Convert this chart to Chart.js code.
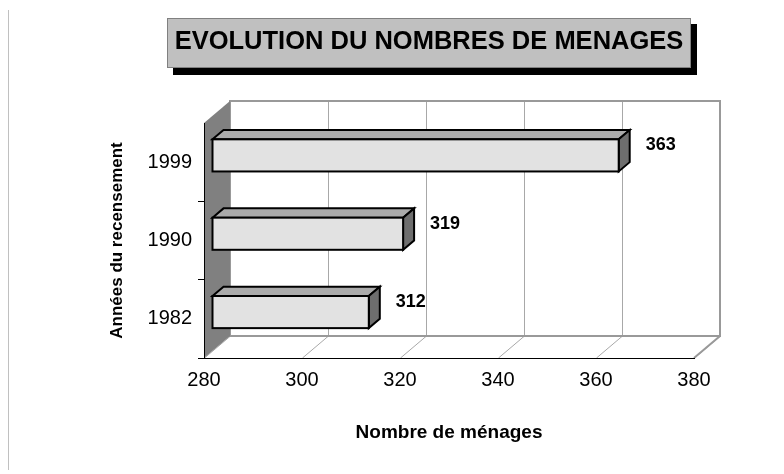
<!DOCTYPE html>
<html>
<head>
<meta charset="utf-8">
<script src="https://cdn.jsdelivr.net/npm/chart.js@4.4.1/dist/chart.umd.min.js"></script>
<style>
  html, body { margin: 0; padding: 0; background: #fff; }
  #wrap { width: 784px; height: 474px; position: relative; }
</style>
</head>
<body>
<div id="wrap"><canvas id="myChart"></canvas></div>
<script>
// Années du recensement et nombre de ménages
const years = ['1982', '1990', '1999'];
const households = [312, 319, 363];
const xTicks = [280, 300, 320, 340, 360, 380];

const chartTitle = 'EVOLUTION DU NOMBRES DE MENAGES';
const xTitle = 'Nombre de ménages';
const yTitle = 'Années du recensement';

// fake 3D depth of the plot box (Excel style)
const DEPTH_X = 26;
const DEPTH_Y = 22;
const BAR_OFFSET = 8;   // bars sit this far back in the box
const BAR_DEPTH = 11;

const FONT = "'Liberation Sans', Arial, sans-serif";

const box3d = {
    id: 'box3d',
    beforeDraw(chart) {
        const { ctx, chartArea: a } = chart;
        const x = chart.scales.x;
        ctx.save();

        // thin page edge on the left
        ctx.strokeStyle = '#c0c0c0';
        ctx.lineWidth = 1;
        ctx.beginPath();
        ctx.moveTo(8.5, 10);
        ctx.lineTo(8.5, 470);
        ctx.stroke();

        // title box with its shadow
        ctx.fillStyle = '#000';
        ctx.fillRect(173, 24, 524, 51);
        ctx.fillStyle = '#c0c0c0';
        ctx.fillRect(167, 18, 524, 50);
        ctx.strokeStyle = '#808080';
        ctx.strokeRect(167.5, 18.5, 523, 49);
        ctx.fillStyle = '#000';
        ctx.font = 'bold 25.5px ' + FONT;
        ctx.textAlign = 'center';
        ctx.textBaseline = 'middle';
        ctx.fillText(chartTitle, 429, 42);

        // floor lines and back wall grid
        ctx.strokeStyle = '#a8a8a8';
        ctx.lineWidth = 1;
        xTicks.forEach(v => {
            const px = Math.round(x.getPixelForValue(v)) + 0.5;
            ctx.beginPath();
            ctx.moveTo(px, a.bottom);
            ctx.lineTo(px + DEPTH_X, a.bottom - DEPTH_Y);
            ctx.lineTo(px + DEPTH_X, a.top - DEPTH_Y);
            ctx.stroke();
        });

        // back wall outline + right floor edge
        ctx.strokeStyle = '#999';
        ctx.lineWidth = 2;
        ctx.strokeRect(a.left + DEPTH_X, a.top - DEPTH_Y, a.right - a.left, a.bottom - a.top);
        ctx.beginPath();
        ctx.moveTo(a.right, a.bottom);
        ctx.lineTo(a.right + DEPTH_X, a.bottom - DEPTH_Y);
        ctx.stroke();

        // left wall
        ctx.fillStyle = '#808080';
        ctx.beginPath();
        ctx.moveTo(a.left, a.top);
        ctx.lineTo(a.left + DEPTH_X, a.top - DEPTH_Y);
        ctx.lineTo(a.left + DEPTH_X, a.bottom - DEPTH_Y);
        ctx.lineTo(a.left, a.bottom);
        ctx.closePath();
        ctx.fill();

        ctx.restore();
    },
    afterDatasetsDraw(chart) {
        const { ctx } = chart;
        const meta = chart.getDatasetMeta(0);
        const dx0 = BAR_OFFSET, dy0 = BAR_OFFSET * DEPTH_Y / DEPTH_X;
        const bx = BAR_DEPTH, by = BAR_DEPTH * DEPTH_Y / DEPTH_X;
        ctx.save();
        ctx.lineWidth = 2;
        ctx.strokeStyle = '#000';
        ctx.lineJoin = 'miter';
        meta.data.forEach((bar, i) => {
            const p = bar.getProps(['x', 'y', 'base', 'height'], true);
            const x0 = p.base + dx0, x1 = p.x + dx0;
            const y0 = p.y - p.height / 2 - dy0, y1 = p.y + p.height / 2 - dy0;

            // top
            ctx.fillStyle = '#ababab';
            ctx.beginPath();
            ctx.moveTo(x0, y0);
            ctx.lineTo(x0 + bx, y0 - by);
            ctx.lineTo(x1 + bx, y0 - by);
            ctx.lineTo(x1, y0);
            ctx.closePath();
            ctx.fill();
            ctx.stroke();

            // end
            ctx.fillStyle = '#6e6e6e';
            ctx.beginPath();
            ctx.moveTo(x1, y0);
            ctx.lineTo(x1 + bx, y0 - by);
            ctx.lineTo(x1 + bx, y1 - by);
            ctx.lineTo(x1, y1);
            ctx.closePath();
            ctx.fill();
            ctx.stroke();

            // front
            ctx.fillStyle = '#e2e2e2';
            ctx.fillRect(x0, y0, x1 - x0, y1 - y0);
            ctx.strokeRect(x0, y0, x1 - x0, y1 - y0);

            // value label
            ctx.fillStyle = '#000';
            ctx.font = 'bold 18px ' + FONT;
            ctx.textAlign = 'left';
            ctx.textBaseline = 'middle';
            ctx.fillText(String(households[i]), x1 + 27, (y0 + y1) / 2 - 10);
        });
        ctx.restore();
    }
};

const ctx = document.getElementById('myChart');

new Chart(ctx, {
    type: 'bar',
    data: {
        labels: years,
        datasets: [{
            label: xTitle,
            data: households,
            base: xTicks[0],
            backgroundColor: 'transparent',
            borderWidth: 0,
            categoryPercentage: 1,
            barPercentage: 0.41
        }]
    },
    options: {
        indexAxis: 'y',
        responsive: true,
        maintainAspectRatio: false,
        animation: false,
        layout: {
            padding: { top: 123, right: 90, bottom: 0, left: 0 }
        },
        scales: {
            x: {
                type: 'linear',
                min: 280,
                max: 380,
                afterBuildTicks: s => { s.ticks = xTicks.map(v => ({ value: v })); },
                afterFit: s => { s.height = 116; },
                grid: { drawOnChartArea: false, drawTicks: false },
                border: { color: '#000', width: 1 },
                ticks: {
                    padding: 10,
                    color: '#000',
                    font: { family: FONT, size: 20 }
                },
                title: {
                    display: true,
                    text: xTitle,
                    color: '#000',
                    font: { family: FONT, size: 19, weight: 'bold' },
                    padding: { top: 0, bottom: 30 }
                }
            },
            y: {
                reverse: true,
                afterFit: s => { s.width = 204; },
                grid: {
                    drawOnChartArea: false,
                    tickLength: 6,
                    // the extra line past the last tick (top edge) has no tick context
                    color: c => c.tick ? '#000' : 'transparent'
                },
                border: { color: '#000', width: 1 },
                ticks: {
                    padding: 6,
                    color: '#000',
                    font: { family: FONT, size: 20 }
                },
                title: {
                    display: true,
                    text: yTitle,
                    color: '#000',
                    font: { family: FONT, size: 17, weight: 'bold' },
                    padding: { top: 107, bottom: 0 }
                }
            }
        },
        plugins: {
            legend: { display: false },
            tooltip: { enabled: false }
        }
    },
    plugins: [box3d]
});
</script>
</body>
</html>
